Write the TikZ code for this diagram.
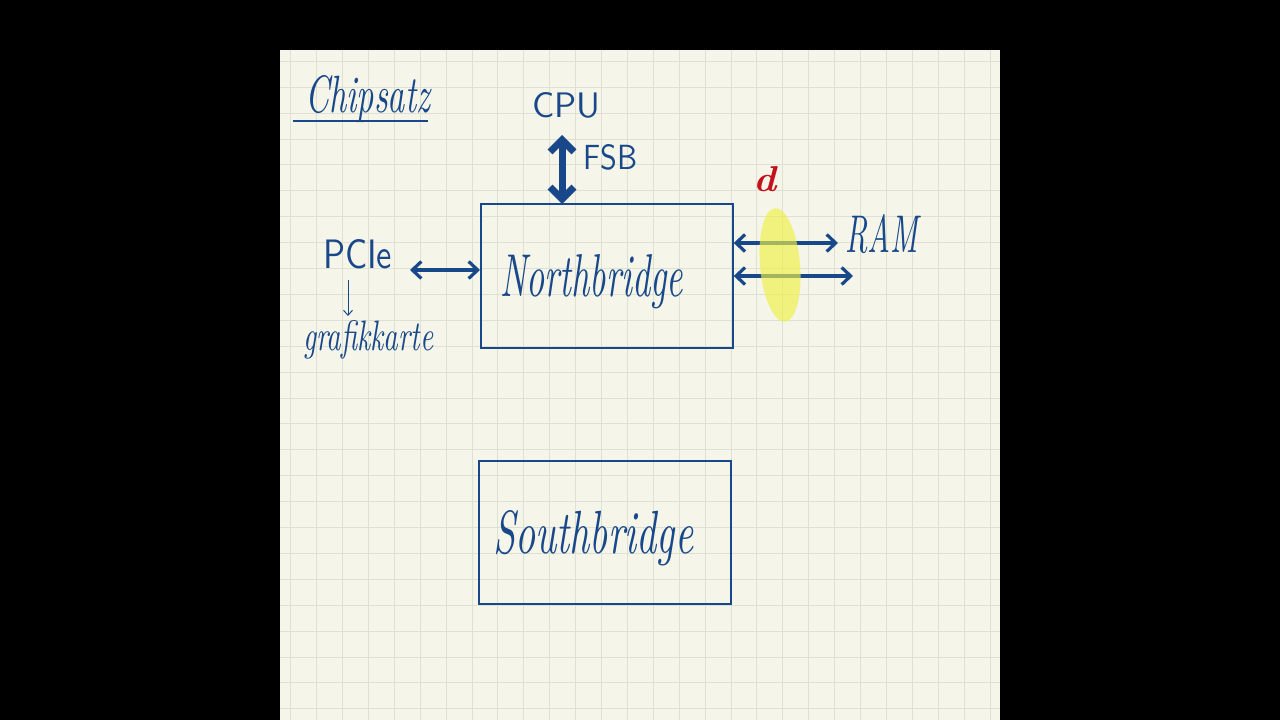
\documentclass[tikz,border=0pt]{standalone}
\usepackage{fontspec}
\usepackage{graphicx}
\usetikzlibrary{arrows.meta}
\definecolor{ink}{RGB}{24,72,138}
\definecolor{paper}{RGB}{245,245,233}
\definecolor{gridc}{RGB}{222,225,210}
\definecolor{redink}{RGB}{196,18,28}
\definecolor{hilite}{RGB}{240,240,70}
\tikzset{
  box/.style={draw=ink, line width=1.7pt},
  hand/.style={text=ink, inner sep=0pt, anchor=north west},
  bus/.style={draw=ink, line width=3.2pt, line cap=round, {Straight Barb[length=9pt,width=17pt]}-{Straight Barb[length=9pt,width=17pt]}},
  fatbus/.style={draw=ink, line width=7pt, line cap=round, {Straight Barb[length=12pt,width=24pt]}-{Straight Barb[length=12pt,width=24pt]}},
  thinarrow/.style={draw=ink, line width=1pt, -{Straight Barb[length=5pt,width=9pt]}}
}
\begin{document}
\begin{tikzpicture}[x=1pt,y=-1pt]
\useasboundingbox (0,0) rectangle (1280,720);
\fill[black] (0,0) rectangle (1280,720);
\fill[paper] (280,50) rectangle (1000,720);
\begin{scope}
\clip (280,50) rectangle (1000,720);
\foreach \i in {0,...,27} \draw[gridc, line width=1pt] ({290.7+25.9*\i},50) -- ({290.7+25.9*\i},720);
\foreach \i in {0,...,26} \draw[gridc, line width=1pt] (280,{61.3+25.9*\i}) -- (1000,{61.3+25.9*\i});
\end{scope}

% title
\node[hand] (title) at (305,75) {\resizebox{125pt}{37pt}{\itshape Chipsatz}};
\draw[ink, line width=1.6pt] (293,121) -- (428,121);

% boxes
\node[box, minimum width=252pt, minimum height=144pt, anchor=north west, inner sep=0pt] (nb) at (480,203) {};
\node[box, minimum width=252pt, minimum height=143pt, anchor=north west, inner sep=0pt] (sb) at (478,460) {};
\node[hand] (nbtext) at (500,254) {\resizebox{183pt}{42pt}{\itshape Northbridge}};
\node[hand] (sbtext) at (493,510) {\resizebox{200pt}{43pt}{\itshape Southbridge}};

% CPU / FSB
\node[hand] (cpu) at (532,92) {\resizebox{68pt}{25pt}{\sffamily CPU}};
\node[hand] (fsb) at (583,144) {\resizebox{54pt}{25pt}{\sffamily FSB}};
\coordinate (fsbtop) at (562,135);
\draw[fatbus] (fsbtop) -- ([yshift=-1pt]fsbtop |- nb.north);

% PCIe
\node[hand] (pcie) at (323,239) {\resizebox{69pt}{29pt}{\sffamily PCIe}};
\coordinate (pcieend) at (410,270);
\draw[bus] (pcieend) -- (pcieend -| nb.west);
\node[hand] (gk) at (303,320) {\resizebox{130pt}{30pt}{\itshape grafikkarte}};
\coordinate (gkarrow) at (348,280);
\draw[thinarrow] (gkarrow) -- (348,316);

% RAM
\node[hand] (ram) at (845,214) {\resizebox{73pt}{38pt}{\itshape RAM}};
\coordinate (ramA) at (838,243);
\coordinate (ramB) at (853,276);
\draw[bus] (ramA -| nb.east) -- (ramA);
\draw[bus] (ramB -| nb.east) -- (ramB);

% red d and highlight
\node[hand, text=redink] (dd) at (753,166) {\resizebox{23pt}{25pt}{\bfseries\itshape d}};
\fill[hilite, opacity=0.65, rotate around={5:(780,265)}] (780,265) ellipse [x radius=20, y radius=57];
\end{tikzpicture}
\end{document}
